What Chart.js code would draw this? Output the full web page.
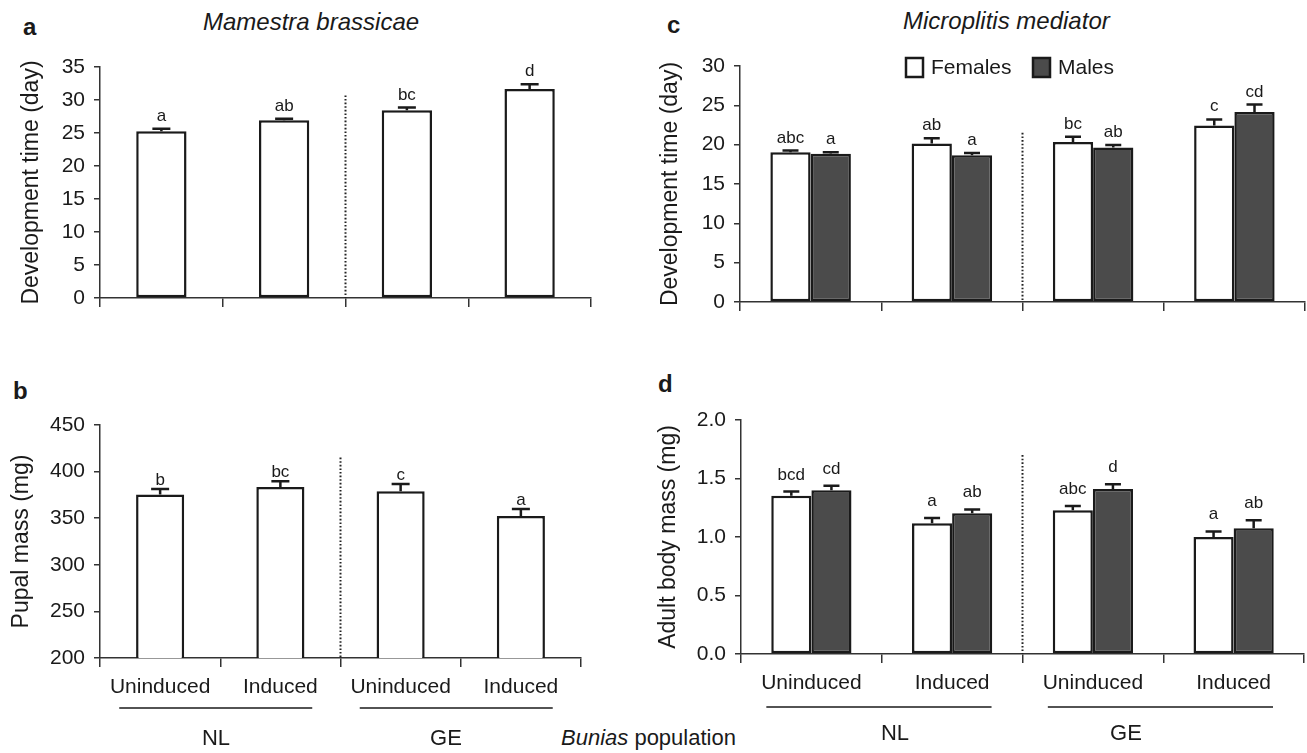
<!DOCTYPE html>
<html><head><meta charset="utf-8">
<script src="https://cdn.jsdelivr.net/npm/chart.js@4.4.1/dist/chart.umd.min.js"></script>
<style>
html,body{margin:0;padding:0;background:#fff;}
body{width:1307px;height:753px;position:relative;overflow:hidden;font-family:"Liberation Sans",Arial,sans-serif;color:#1a1a1a;}
canvas{position:absolute;}
.t{position:absolute;white-space:nowrap;line-height:1;}
</style></head><body>
<div class="t" style="left:23px;top:15px;font-size:24px;font-weight:bold">a</div>
<div class="t" style="left:13px;top:379px;font-size:24px;font-weight:bold">b</div>
<div class="t" style="left:667px;top:13px;font-size:24px;font-weight:bold">c</div>
<div class="t" style="left:658px;top:372px;font-size:24px;font-weight:bold">d</div>
<div class="t" style="left:203px;top:10px;font-size:24px;font-style:italic">Mamestra brassicae</div>
<div class="t" style="left:903px;top:9px;font-size:24px;font-style:italic">Microplitis mediator</div>
<div class="t" style="left:561px;top:727px;font-size:22px"><i>Bunias</i> population</div>
<canvas id="ca" width="650" height="330" style="left:0;top:0"></canvas>
<canvas id="cb" width="650" height="423" style="left:0;top:330px"></canvas>
<canvas id="cc" width="657" height="330" style="left:650px;top:0"></canvas>
<canvas id="cd" width="657" height="423" style="left:650px;top:330px"></canvas>
<script>
// ---------- data ----------
const categories = ['Uninduced', 'Induced', 'Uninduced', 'Induced'];
const populations = ['NL', 'GE'];
const seriesNames = ['Females', 'Males'];

// (a) Mamestra brassicae development time (day)
const mbDevTime = [25.25, 26.95, 28.45, 31.65];
const mbDevTimeSE = [0.4, 0.2, 0.4, 0.75];
const mbDevTimeLetters = ['a', 'ab', 'bc', 'd'];

// (b) Mamestra brassicae pupal mass (mg)
const mbPupalMass = [375.5, 383.5, 379, 352.3];
const mbPupalMassSE = [5.8, 6.1, 7.7, 7.7];
const mbPupalMassLetters = ['b', 'bc', 'c', 'a'];

// (c) Microplitis mediator development time (day)
const mmDevFemales = [19.05, 20.15, 20.35, 22.45];
const mmDevFemalesSE = [0.2, 0.65, 0.65, 0.75];
const mmDevFemalesLetters = ['abc', 'ab', 'bc', 'c'];
const mmDevMales = [18.85, 18.65, 19.65, 24.15];
const mmDevMalesSE = [0.2, 0.3, 0.3, 0.95];
const mmDevMalesLetters = ['a', 'a', 'ab', 'cd'];

// (d) Microplitis mediator adult body mass (mg)
const mmMassFemales = [1.353, 1.117, 1.228, 1.0];
const mmMassFemalesSE = [0.035, 0.045, 0.037, 0.048];
const mmMassFemalesLetters = ['bcd', 'a', 'abc', 'a'];
const mmMassMales = [1.40, 1.202, 1.41, 1.074];
const mmMassMalesSE = [0.038, 0.034, 0.04, 0.07];
const mmMassMalesLetters = ['cd', 'ab', 'd', 'ab'];

// ---------- styling ----------
const FONT = '"Liberation Sans", Arial, sans-serif';
const INK = '#1a1a1a';
const AXIS = '#333333';
const MALE_FILL = '#4b4b4b';
Chart.defaults.font.family = FONT;
Chart.defaults.color = INK;

const decorPlugin = {
  id: 'decor',
  afterDraw(chart, args, o) {
    const ctx = chart.ctx, xs = chart.scales.x, ys = chart.scales.y, area = chart.chartArea;
    ctx.save();
    // dotted divider between populations
    const dx = (xs.getPixelForValue(1) + xs.getPixelForValue(2)) / 2;
    ctx.strokeStyle = '#222'; ctx.lineWidth = 2; ctx.setLineDash([1.6, 2]);
    ctx.beginPath(); ctx.moveTo(dx, ys.getPixelForValue(o.dividerTop)); ctx.lineTo(dx, area.bottom); ctx.stroke();
    ctx.setLineDash([]);
    // error bars and letters
    chart.data.datasets.forEach((ds, di) => {
      const meta = chart.getDatasetMeta(di);
      meta.data.forEach((bar, i) => {
        const yt = ys.getPixelForValue(ds.data[i] + ds.errors[i]);
        ctx.strokeStyle = INK; ctx.lineWidth = 2.5;
        ctx.beginPath();
        ctx.moveTo(bar.x, bar.y); ctx.lineTo(bar.x, yt);
        ctx.moveTo(bar.x - o.capWidth / 2, yt); ctx.lineTo(bar.x + o.capWidth / 2, yt);
        ctx.stroke();
        ctx.fillStyle = INK; ctx.font = '17px ' + FONT;
        ctx.textAlign = 'center'; ctx.textBaseline = 'alphabetic';
        ctx.fillText(ds.letters[i], bar.x, yt - o.letterGap);
      });
    });
    // population grouping lines and labels
    if (o.groups) {
      const w = xs.width / categories.length;
      populations.forEach((p, g) => {
        const c0 = xs.getPixelForValue(2 * g), c1 = xs.getPixelForValue(2 * g + 1);
        ctx.strokeStyle = INK; ctx.lineWidth = 1.4;
        ctx.beginPath();
        ctx.moveTo(c0 + o.groups.lineFrom * w, o.groups.lineY);
        ctx.lineTo(c1 + o.groups.lineTo * w, o.groups.lineY);
        ctx.stroke();
        ctx.fillStyle = INK; ctx.font = '22px ' + FONT;
        ctx.textAlign = 'center'; ctx.textBaseline = 'alphabetic';
        ctx.fillText(p, (c0 + c1) / 2 + o.groups.labelOffsets[g] * w, o.groups.labelY);
      });
    }
    // legend
    if (o.legend) {
      chart.data.datasets.forEach((ds, di) => {
        const bx = area.left + o.legend.x[di], by = area.top + o.legend.y;
        ctx.fillStyle = ds.backgroundColor; ctx.fillRect(bx, by, 17, 19);
        ctx.strokeStyle = INK; ctx.lineWidth = 2.5; ctx.strokeRect(bx, by, 17, 19);
        ctx.fillStyle = INK; ctx.font = '21px ' + FONT;
        ctx.textAlign = 'left'; ctx.textBaseline = 'middle';
        ctx.fillText(ds.label, bx + 25, by + 10);
      });
    }
    ctx.restore();
  }
};

function makePanel(id, cfg) {
  return new Chart(document.getElementById(id), {
    type: 'bar',
    data: { labels: categories, datasets: cfg.datasets },
    options: {
      responsive: false, animation: false, events: [],
      layout: { padding: cfg.padding },
      datasets: { bar: { categoryPercentage: cfg.catPct, barPercentage: cfg.barPct } },
      plugins: { legend: { display: false }, tooltip: { enabled: false }, decor: cfg.decor },
      scales: {
        x: {
          offset: true,
          grid: { offset: true, drawOnChartArea: false, drawTicks: true, tickLength: 9, color: AXIS, lineWidth: 1.5 },
          border: { display: true, color: AXIS, width: 1.5 },
          ticks: { display: cfg.showX, padding: 8, maxRotation: 0, autoSkip: false, font: { size: 21 }, color: INK },
          afterFit: s => { s.height = cfg.xHeight; }
        },
        y: {
          min: cfg.yMin, max: cfg.yMax,
          grid: { drawOnChartArea: false, drawTicks: true, tickLength: 6, color: AXIS, lineWidth: 1.5 },
          border: { display: true, color: AXIS, width: 1.5 },
          ticks: { stepSize: cfg.yStep, padding: 9, font: { size: 21 }, color: INK,
                   callback: v => cfg.yDec ? Number(v).toFixed(cfg.yDec) : v },
          title: { display: true, text: cfg.yTitle, font: { size: 23 }, color: INK, padding: { top: cfg.yTitlePad, bottom: 0 } },
          afterFit: s => { s.width = cfg.yWidth; }
        }
      }
    },
    plugins: [decorPlugin]
  });
}

const barStyle = (fill) => ({ backgroundColor: fill, borderColor: INK, borderWidth: 2.5, borderSkipped: false });

makePanel('ca', {
  datasets: [Object.assign({ label: 'Development time', data: mbDevTime, errors: mbDevTimeSE, letters: mbDevTimeLetters }, barStyle('#ffffff'))],
  yMin: 0, yMax: 35, yStep: 5, yTitle: 'Development time (day)', yTitlePad: 18, yWidth: 100,
  showX: false, xHeight: 20, padding: { top: 67, left: 0, right: 59, bottom: 12 },
  catPct: 1, barPct: 0.41,
  decor: { dividerTop: 30.7, capWidth: 18, letterGap: 8 }
});

makePanel('cb', {
  datasets: [Object.assign({ label: 'Pupal mass', data: mbPupalMass, errors: mbPupalMassSE, letters: mbPupalMassLetters }, barStyle('#ffffff'))],
  yMin: 200, yMax: 450, yStep: 50, yTitle: 'Pupal mass (mg)', yTitlePad: 8, yWidth: 100,
  showX: true, xHeight: 40, padding: { top: 95, left: 0, right: 69, bottom: 55 },
  catPct: 1, barPct: 0.40,
  decor: { dividerTop: 415, capWidth: 18, letterGap: 4,
           groups: { lineY: 378, labelY: 415, lineFrom: -0.34, lineTo: 0.265, labelOffsets: [-0.035, -0.123] } }
});

makePanel('cc', {
  datasets: [
    Object.assign({ label: seriesNames[0], data: mmDevFemales, errors: mmDevFemalesSE, letters: mmDevFemalesLetters }, barStyle('#ffffff')),
    Object.assign({ label: seriesNames[1], data: mmDevMales, errors: mmDevMalesSE, letters: mmDevMalesLetters }, barStyle(MALE_FILL))
  ],
  yMin: 0, yMax: 30, yStep: 5, yTitle: 'Development time (day)', yTitlePad: 7, yWidth: 90,
  showX: false, xHeight: 20, padding: { top: 66, left: 0, right: 2, bottom: 8 },
  catPct: 0.57, barPct: 1,
  decor: { dividerTop: 21.5, capWidth: 16, letterGap: 8, legend: { x: [166, 293], y: -8 } }
});

makePanel('cd', {
  datasets: [
    Object.assign({ label: seriesNames[0], data: mmMassFemales, errors: mmMassFemalesSE, letters: mmMassFemalesLetters }, barStyle('#ffffff')),
    Object.assign({ label: seriesNames[1], data: mmMassMales, errors: mmMassMalesSE, letters: mmMassMalesLetters }, barStyle(MALE_FILL))
  ],
  yMin: 0, yMax: 2.0, yStep: 0.5, yDec: 1, yTitle: 'Adult body mass (mg)', yTitlePad: 5, yWidth: 91,
  showX: true, xHeight: 40, padding: { top: 90, left: 0, right: 3, bottom: 59 },
  catPct: 0.57, barPct: 1,
  decor: { dividerTop: 1.70, capWidth: 16, letterGap: 12,
           groups: { lineY: 377, labelY: 410, lineFrom: -0.32, lineTo: 0.28, labelOffsets: [0.094, -0.265] } }
});
</script>
</body></html>
